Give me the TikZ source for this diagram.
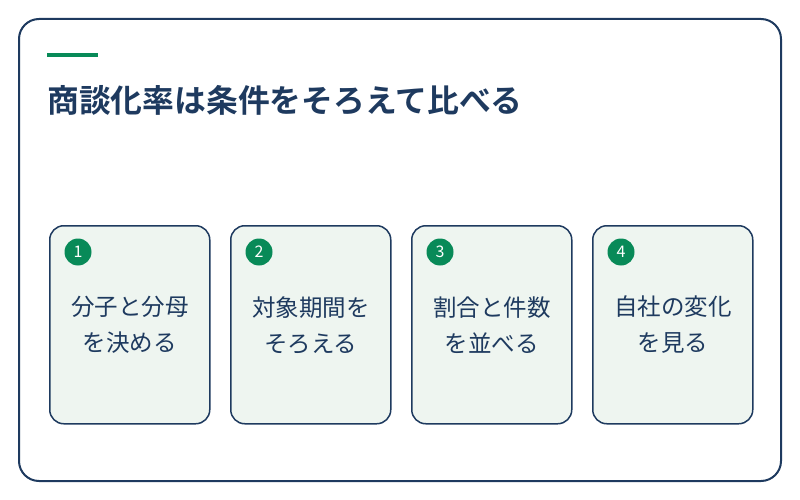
\documentclass[tikz,border=0pt]{standalone}
\usepackage{fontspec}
\setmainfont{Noto Sans CJK JP}[BoldFont={Noto Sans CJK JP Bold}]
\usetikzlibrary{positioning}
\definecolor{navy}{RGB}{30,58,95}
\definecolor{leaf}{RGB}{8,138,88}
\definecolor{mint}{RGB}{238,245,240}

\begin{document}
\begin{tikzpicture}[x=1pt,y=-1pt,
frame/.style={draw=navy,line width=2pt,rounded corners=20pt,fill=white},
card/.style={draw=navy,line width=1.5pt,rounded corners=14pt,fill=mint,
  minimum width=160pt,minimum height=198pt,anchor=north west,inner sep=0pt},
badge/.style={circle,fill=leaf,text=white,minimum size=27pt,inner sep=0pt,
  font=\fontsize{16}{16}\selectfont},
lbl/.style={align=center,text=navy,font=\fontsize{23.5}{36}\selectfont}]
\useasboundingbox (0,0) rectangle (800,500);
\draw[frame] (19,19) rectangle (781,481);
\fill[leaf] (47,53) rectangle (98,57);
\node[anchor=base west,inner sep=0pt,text=navy,font=\bfseries\fontsize{31.8}{34}\selectfont] (title) at (47,113) {商談化率は条件をそろえて比べる};
\foreach \i/\t in {1/{分子と分母\\を決める},2/{対象期間を\\そろえる},
  3/{割合と件数\\を並べる},4/{自社の変化\\を見る}}{
\node[card] (c\i) at ({49+(\i-1)*181},225) {};
\node[badge] (b\i) at ([xshift=29pt,yshift=-27pt]c\i.north west) {\i};
\node[lbl] (t\i) at ([yshift=-100pt]c\i.north) {\t};}
\end{tikzpicture}
\end{document}
